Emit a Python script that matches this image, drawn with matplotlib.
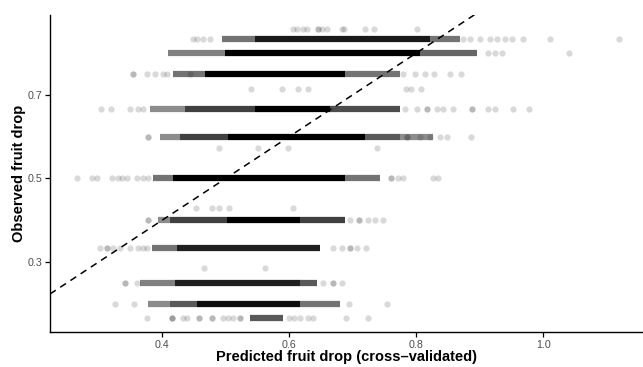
import matplotlib
matplotlib.use("Agg")
import matplotlib.pyplot as plt
import numpy as np

plt.rcParams['font.family'] = ['Liberation Sans', 'DejaVu Sans']

# observed fruit drop levels (rows of the scatter)
levels = [6/7, 5/6, 4/5, 3/4, 5/7, 2/3, 3/5, 4/7, 1/2, 3/7, 2/5, 1/3, 2/7, 1/4, 1/5, 1/6]

# dense parts of each row: observed level, predicted start/end, darkness
band_y = [5/6, 5/6, 5/6,
          4/5, 4/5, 4/5,
          3/4, 3/4, 3/4,
          2/3, 2/3, 2/3, 2/3,
          3/5, 3/5, 3/5, 3/5, 3/5,
          1/2, 1/2, 1/2,
          2/5, 2/5, 2/5, 2/5,
          1/3, 1/3,
          1/4, 1/4, 1/4,
          1/5, 1/5, 1/5, 1/5,
          1/6]
band_x0 = [0.494, 0.546, 0.822,
           0.409, 0.499, 0.806,
           0.417, 0.467, 0.688,
           0.381, 0.436, 0.546, 0.664,
           0.396, 0.428, 0.503, 0.719, 0.774,
           0.385, 0.417, 0.688,
           0.393, 0.412, 0.502, 0.617,
           0.384, 0.423,
           0.365, 0.420, 0.617,
           0.377, 0.412, 0.455, 0.617,
           0.538]
band_x1 = [0.546, 0.822, 0.869,
           0.499, 0.806, 0.896,
           0.467, 0.688, 0.774,
           0.436, 0.546, 0.664, 0.774,
           0.428, 0.503, 0.719, 0.774, 0.826,
           0.417, 0.688, 0.743,
           0.412, 0.502, 0.617, 0.688,
           0.423, 0.648,
           0.420, 0.617, 0.644,
           0.412, 0.455, 0.617, 0.680,
           0.590]
band_dark = [0.55, 0.9, 0.55,
             0.5, 1.0, 0.6,
             0.55, 1.0, 0.55,
             0.45, 0.75, 1.0, 0.7,
             0.45, 0.75, 1.0, 0.65, 0.45,
             0.55, 1.0, 0.55,
             0.45, 0.75, 1.0, 0.75,
             0.55, 0.88,
             0.5, 0.88, 0.65,
             0.45, 0.65, 0.95, 0.55,
             0.65]

# scattered single points per row (repeats = overlapping points)
pts_6_7 = [0.606, 0.612, 0.622, 0.628, 0.645, 0.645, 0.652, 0.659, 0.683, 0.686, 0.719, 0.733, 0.801]
pts_5_6 = [0.448, 0.455, 0.464, 0.475, 0.874, 0.885, 0.900, 0.916, 0.927, 0.940, 0.951, 0.968, 1.010, 1.119]
pts_4_5 = [0.913, 0.924, 0.935, 1.040]
pts_3_4 = [0.354, 0.354, 0.376, 0.389, 0.401, 0.407, 0.444, 0.779, 0.798, 0.814, 0.828, 0.853, 0.870]
pts_5_7 = [0.540, 0.589, 0.614, 0.629, 0.784, 0.792, 0.807]
pts_2_3 = [0.303, 0.319, 0.349, 0.362, 0.370, 0.782, 0.801, 0.817, 0.817, 0.833, 0.842, 0.858,
           0.888, 0.888, 0.913, 0.924, 0.952, 0.977]
pts_3_5 = [0.377, 0.377, 0.785, 0.785, 0.806, 0.822, 0.837, 0.848, 0.886]
pts_4_7 = [0.489, 0.551, 0.598, 0.738]
pts_1_2 = [0.266, 0.289, 0.297, 0.321, 0.330, 0.337, 0.345, 0.360, 0.370, 0.377,
           0.760, 0.760, 0.771, 0.779, 0.826, 0.834]
pts_3_7 = [0.453, 0.478, 0.489, 0.505, 0.606]
pts_2_5 = [0.377, 0.377, 0.696, 0.709, 0.709, 0.724, 0.735, 0.748]
pts_1_3 = [0.302, 0.313, 0.313, 0.322, 0.334, 0.349, 0.362, 0.370, 0.376,
           0.669, 0.683, 0.696, 0.696, 0.707, 0.720]
pts_2_7 = [0.466, 0.562]
pts_1_4 = [0.341, 0.341, 0.360, 0.653, 0.669, 0.669, 0.683]
pts_1_5 = [0.326, 0.355, 0.694, 0.754]
pts_1_6 = [0.376, 0.415, 0.415, 0.415, 0.433, 0.439, 0.458, 0.458, 0.478, 0.478, 0.496, 0.503,
           0.511, 0.522, 0.522, 0.599, 0.607, 0.617, 0.629, 0.637, 0.689, 0.724]

row_pts = [pts_6_7, pts_5_6, pts_4_5, pts_3_4, pts_5_7, pts_2_3, pts_3_5, pts_4_7,
           pts_1_2, pts_3_7, pts_2_5, pts_1_3, pts_2_7, pts_1_4, pts_1_5, pts_1_6]

x_ticks = [0.4, 0.6, 0.8, 1.0]
y_ticks = [0.3, 0.5, 0.7]

fig = plt.figure(figsize=(6.43, 3.67), dpi=100)
ax = fig.add_axes([50/643, 35/367, 593/643, 317.4/367])

msize = 4.5
for y, x0, x1, d in zip(band_y, band_x0, band_x1, band_dark):
    g = 1 - d
    ax.hlines(y, x0, x1, colors=[(g, g, g)], linewidth=msize, capstyle='butt', zorder=2)

px = np.concatenate([np.asarray(p) for p in row_pts])
py = np.concatenate([np.full(len(p), lv) for p, lv in zip(row_pts, levels)])
ax.scatter(px, py, s=msize**2, color='black', alpha=0.15, linewidths=0, zorder=3)

ax.axline((0, 0), slope=1, color='black', linewidth=1.1, linestyle=(0, (4.5, 3.5)), zorder=4)

ax.set_xlim(0.223, 1.157)
ax.set_ylim(0.132, 0.892)
ax.set_xticks(x_ticks)
ax.set_xticklabels(['0.4', '0.6', '0.8', '1.0'])
ax.set_yticks(y_ticks)
ax.set_yticklabels(['0.3', '0.5', '0.7'])

for s in ['top', 'right']:
    ax.spines[s].set_visible(False)
for s in ['left', 'bottom']:
    ax.spines[s].set_linewidth(1.0)
ax.tick_params(length=3.5, width=0.9, color='black', labelsize=7.7, labelcolor='#4d4d4d', pad=2)

ax.set_xlabel('Predicted fruit drop (cross\u2013validated)', fontsize=10.5, fontweight='bold', labelpad=0.5)
ax.set_ylabel('Observed fruit drop', fontsize=10.5, fontweight='bold', labelpad=1)

fig.savefig('out.png', dpi=100)
